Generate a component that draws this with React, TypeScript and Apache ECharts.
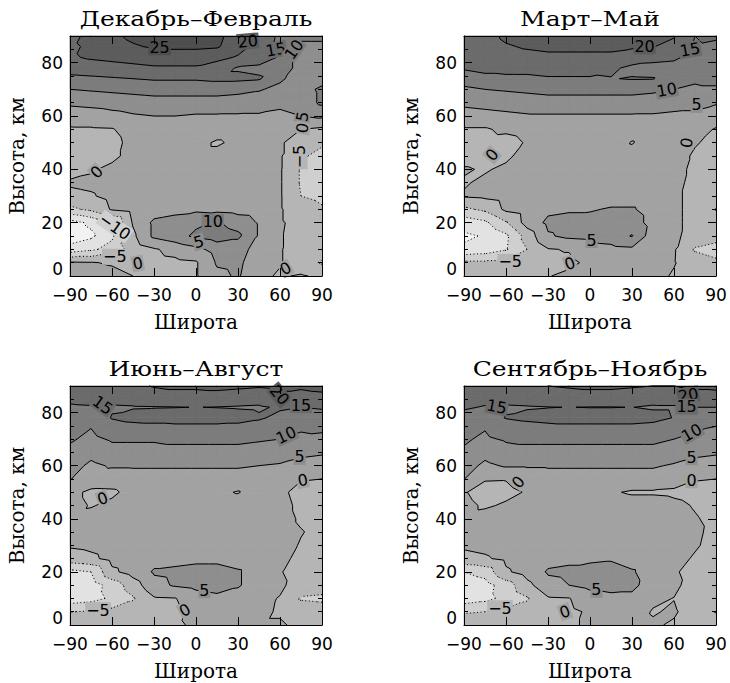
import React, { useEffect, useRef } from 'react';
import * as echarts from 'echarts';

// ---------- axes / levels ----------
const LATS = [-90, -75, -60, -45, -30, -15, 0, 15, 30, 45, 60, 75, 90];
const ALTS = [0, 5, 10, 15, 20, 25, 30, 35, 40, 45, 50, 55, 60, 65, 70, 74, 78, 82, 86, 90];
const LEVELS = [-15, -10, -5, 0, 5, 10, 15, 20, 25];
const BAND_COLORS = ['#f2f2f2', '#e2e2e2', '#cfcfcf', '#b5b5b5', '#a2a2a2', '#8e8e8e', '#7c7c7c', '#6b6b6b', '#5c5c5c', '#4e4e4e'];
const Y_TICKS = [0, 20, 40, 60, 80];
const Y_MINOR_TICKS = [5, 10, 15, 25, 30, 35, 45, 50, 55, 65, 70, 75, 85];
const TITLES = ['Декабрь–Февраль', 'Март–Май', 'Июнь–Август', 'Сентябрь–Ноябрь'];
const X_NAME = 'Широта';
const Y_NAME = 'Высота, км';

// ---------- Dec-Feb: rows by altitude (ALTS), columns by latitude (LATS) ----------
const DJF_ROWS = [
  [3, 2, 1.5, 0, -1, -1, -0.5, 4, 5.5, 1, -0.5, 0.5, -1],
  [0.5, 0.3, -0.5, -2, -1.5, -1, -0.5, 5.5, 6, 2, 0.3, -3, -5.5],
  [-13, -11, -8, -3, -0.5, 1.5, 3.5, 7, 7, 3, 0.3, -2, -3],
  [-18, -16, -11, -1, 6, 8, 11, 12.5, 11, 4.5, 0.3, -1.5, -1.5],
  [-17, -14, -10.5, 0.5, 6, 7, 9, 10.5, 8, 4.5, 0.5, -1.5, -2],
  [-6, -4, 0.5, 2, 2.5, 3.5, 4, 3.5, 3, 2.5, 0.5, -3, -4.5],
  [-1, -0.5, 1.5, 2.5, 2.5, 2.5, 2.5, 2.5, 2.5, 2.5, 0.5, -5, -6],
  [0.5, 1, 2, 2.5, 2.5, 2.5, 2.5, 2.5, 2.5, 2.5, 0.5, -5.5, -6.5],
  [-1.5, -0.5, 1, 2.5, 2.5, 2.5, 2.5, 2.5, 2.5, 2.5, 0.5, -5.5, -7],
  [-2, -2, -1, 1.5, 2.5, 2.5, 2, 2, 2, 2.5, 0.5, -4.5, -6],
  [-2, -2, -1.5, 1.5, 2.5, 2.5, 2, -0.8, 1.5, 2.5, 0.5, -2, -4.5],
  [-0.5, -0.5, -0.3, 2, 3, 3, 3, 3, 3, 3, 1, 0, -1],
  [2, 2.5, 3.5, 4.5, 5, 5, 4.5, 4.5, 4.5, 4.5, 4, 5, 6],
  [6, 6.5, 7, 7.5, 8, 8, 8, 8, 7.5, 7, 6, 7, 11],
  [10, 10.5, 11, 11.5, 12, 12, 12, 12, 11.5, 10.5, 8.5, 8, 11],
  [13.5, 14, 14.5, 15, 15.5, 15.5, 15.5, 16, 16, 15.5, 11, 7, 8],
  [17.5, 18, 18.5, 19, 19.5, 19.5, 19.5, 17.5, 14.5, 14, 13, 8, 8],
  [19.5, 20.5, 21, 21.5, 22, 22, 22, 21.5, 19.5, 17.5, 14.5, 8, 8],
  [19, 21, 23, 24.5, 25.5, 26, 26, 25.5, 22, 18, 13.5, 9, 9],
  [18, 22, 24, 26, 27, 27, 27, 26, 23, 18.5, 14, 11, 11],
];

// ---------- Mar-May: columns by latitude (LATS), values by altitude (ALTS) ----------
const MAM_COLS = [
  [-2, -4, -14, -16, -13, -6, 0.5, -0.5, 0.5, -2, -2, -0.5, 3, 6, 9, 12.5, 15.5, 15.5, 15, 15],
  [-2, -4, -13, -14.5, -11, -4, 1, 1, -0.5, -2, -1.5, -0.5, 3.5, 6.5, 10, 13.5, 16.5, 17, 17.5, 18],
  [-1.5, -4, -10.5, -11, -5.5, 1, 2, 2, 1, -1, -2, 1, 4, 7, 10.5, 14, 16.5, 18, 19.5, 21],
  [-1, -2.5, -5, -3, 2, 2.5, 2.5, 2.5, 2.5, 2, 0.5, 2, 4.5, 7.5, 11, 14, 16.5, 18.5, 20.5, 22],
  [-0.2, -1, -0.3, 4.5, 6, 4, 2.5, 2.5, 2.5, 2.5, 2.5, 2.5, 4.5, 8, 11.5, 14.5, 17, 19, 21, 23],
  [1, -1, 0.3, 6, 6.5, 4.5, 2.5, 2.5, 2.5, 2.5, 2.5, 2.5, 4.5, 8, 11.5, 14.5, 17, 19, 21, 23],
  [1.5, 1, 3, 6.5, 7, 4.5, 2.5, 2.5, 2.5, 2.5, 2.5, 2.5, 4.5, 8, 11.5, 14.5, 17, 19, 21, 23],
  [2, 2.5, 3.5, 7.5, 8, 5.5, 2.5, 2.5, 2.5, 2.5, 2.5, 2.5, 4.5, 8, 11.5, 14.8, 16, 19, 21, 23],
  [2, 2.5, 4, 10.3, 7.5, 5.5, 2.5, 2.5, 2.5, 2, -0.3, 2, 4.5, 8, 11.5, 15.3, 13.8, 18, 20.5, 22],
  [1.5, 2, 2.5, 2, 3, 3, 2.5, 2.5, 2.5, 2.5, 2.5, 2.5, 4.5, 7.5, 11, 15.2, 13.5, 16.5, 20.2, 21.5],
  [-0.5, 0.3, 0.5, 1, 1, 1, 1, 1.5, 1.5, 1.5, 1.5, 2, 4, 7, 10, 12.5, 13, 16, 18, 20.5],
  [-1, -2.5, -5.5, -2, -1.5, -1.5, -1.5, -1.5, -1, -0.5, 0.3, 1.5, 4, 6.5, 9.5, 10.5, 10.2, 13, 14.5, 15],
  [-1.5, -4, -7, -3, -2, -5.2, -2, -1.5, -1.5, -1.5, -1, -0.3, 2, 5.5, 9.5, 11, 11, 12, 13.5, 16],
];

// ---------- Jun-Aug ----------
const JJA_COLS = [
  [-2, -5.2, -13, -13, -11.5, -2, 0.5, 0.5, 1, 1.5, 1.5, 5.2, 7, 9, 10.5, 12, 13, 14.5, 16, 16.5],
  [-2, -4.5, -12, -12.5, -10, -1, 1, 1.5, 1.5, -0.3, -1, 3, 4, 6.5, 9, 10, 11.5, 14.7, 16.5, 17],
  [-1.5, -3.5, -9, -8, -1, 1.5, 2, 2, 2, 1, -0.8, 2.5, 5.5, 8.5, 10.5, 12.5, 15.3, 14.5, 16, 17.5],
  [-1, -2.5, -5.5, -2.5, 2, 2.5, 2.5, 2.5, 2.5, 2, 1.5, 3, 5.5, 8.5, 10.5, 13, 16.5, 14.7, 17, 19],
  [-1, -1.5, -0.5, 3.5, 5.5, 3.5, 2.5, 2.5, 2.5, 2.5, 1, 3, 5.5, 8.5, 10.5, 13, 17, 14.8, 18, 20.3],
  [-0.5, -1, -0.2, 5.5, 6, 3.5, 2.5, 2.5, 2.5, 2.5, 2.5, 3, 5.5, 8.5, 11, 13.5, 17, 14.9, 18, 21],
  [0.5, 1, 2.5, 6.5, 6.5, 4, 2.5, 2.5, 2.5, 2.5, 2.5, 3, 5.5, 8.5, 11, 13.5, 17, 15.05, 18, 21],
  [1.5, 2, 3.5, 7.5, 6.5, 4, 2.5, 2.5, 2.5, 2.5, 1, 3, 5.5, 8.5, 11, 13.5, 17, 14.9, 18, 21.5],
  [1.5, 2, 3, 5.5, 5.5, 3, 2.5, 2.5, 2.5, 2.5, -0.3, 3, 5.5, 8.5, 11, 13.5, 16.5, 14.7, 17.5, 21],
  [0.5, 1, 1.5, 2.5, 2.5, 2.5, 2.5, 2.5, 2.5, 2.5, 2.5, 3, 5, 8, 10.5, 13, 15.5, 14.5, 17, 20.5],
  [0.5, -0.5, -0.3, 1, 0.3, 1, 1.5, 1.5, 1.5, 1.5, 1, 2.5, 4.5, 7.5, 10, 12, 14, 15.5, 19, 21],
  [-1, -2, -5.5, -2.5, -2, -1, -0.3, 0.2, -0.5, -1, -1.5, 0.3, 3.5, 6, 9, 10.5, 12.5, 15, 18, 21],
  [-1.5, -2.5, -6, -2.5, -2, -1.5, -1.5, -1, -1.5, -1.5, -1, 0, 3, 5.5, 8.5, 11, 13, 15.5, 18.5, 22],
];

// ---------- Sep-Nov ----------
const SON_COLS = [
  [-2, -5.5, -13, -13.5, -10, -1, 0.5, 1, 1, 1, 0.3, 5.1, 7, 9.5, 10.5, 12, 13.5, 15.5, 17, 18],
  [-2, -5, -11.5, -12, -8, -0.5, 1, 1.5, 1.5, -0.5, -1.5, 0.3, 4, 6.5, 9.3, 10.2, 13, 14.7, 16.5, 18.5],
  [-1.5, -4, -8.5, -7.5, -0.7, 1, 2, 2, 2, 0.5, -1, 0.2, 5.5, 8.5, 10.5, 12.5, 15.2, 14.5, 16.5, 19],
  [-1, -3, -5.5, -1.5, 2, 2.5, 2.5, 2.5, 2.5, 2, 0.3, 2, 5.5, 8.5, 11, 13, 16, 14.7, 17, 19.5],
  [-1, -1.5, -0.5, 3.5, 5.5, 3.5, 2.5, 2.5, 2.5, 2.5, 2.5, 3, 5.5, 8.5, 11, 13.5, 16.5, 14.9, 17.5, 20],
  [-0.5, -0.8, -0.2, 5, 6, 4, 2.5, 2.5, 2.5, 2.5, 2.5, 3, 5.5, 8.5, 11, 13.5, 17, 15.05, 18, 20.5],
  [0.5, 0.5, 2.5, 6.5, 7, 4, 2.5, 2.5, 2.5, 2.5, 2.5, 3, 5.5, 8.5, 11, 13.5, 17, 14.9, 18, 21],
  [1.5, 2, 3.5, 7, 7, 4.5, 2.5, 2.5, 2.5, 2.5, 0.5, 3, 5.5, 8.5, 11, 13.5, 17, 14.9, 18, 21],
  [1.5, 2, 3.5, 6.5, 5.5, 3, 2.5, 2.5, 2.5, 2, -0.5, 3, 5.5, 8.5, 11, 13.5, 17, 15.05, 17.5, 20.5],
  [0.5, -0.3, 0.8, 2, 2.5, 2.5, 2.5, 2.5, 2.5, 2, -0.5, 3, 5.5, 8.5, 11, 13, 16.5, 14.5, 17, 20],
  [-0.5, 0.5, -0.1, 1, 0.5, 1.5, 2, 2, 1.5, 1, -0.8, 2, 4.5, 7.5, 10, 12.5, 14.8, 14.5, 17.5, 20],
  [-1, -2, -3, -2, -1.5, -0.5, 0.5, 0.8, 0.3, -0.3, -1.5, 0.3, 3.5, 6, 9, 10.5, 12.5, 15, 18, 21],
  [-1.5, -5.3, -3.5, -2.5, -2, -2, -1.5, -1.2, -1, -1.5, -1.5, 0, 3, 5.5, 8, 9.5, 12, 15, 18.5, 21],
];

// ---------- contour labels: [lat, alt, level, rotation deg] ----------
const DJF_LABELS = [
  [-26, 85.8, 25, 0], [37, 88, 20, 5], [57, 84.9, 15, 10], [70, 84.9, 10, 55],
  [76, 59.8, 5, 80], [76, 55.5, 0, 80], [74, 44.8, -5, 90], [-71, 39, 0, 45],
  [-58, 18.5, -10, -35], [12, 20.3, 10, 0], [2, 12.8, 5, 15], [-58, 7.2, -5, 0],
  [-41.6, 4.7, 0, 10], [64, 2.8, 0, 30],
];
const MAM_LABELS = [
  [39, 86.1, 20, 0], [71.4, 84.9, 15, 10], [54.8, 69.8, 10, 10], [76.2, 64.2, 5, 0],
  [69, 50, 0, 80], [-70, 45.4, 0, 50], [1.2, 13.5, 5, 0], [-57, 5.3, -5, 0], [-14.3, 4.7, 0, 20],
];
const JJA_LABELS = [
  [-66.6, 82.8, 15, -35], [59.6, 86.6, 20, -50], [75, 82.8, 15, 0], [64.4, 71.5, 10, 25],
  [74, 63.3, 5, 0], [76.3, 54.5, 0, 10], [-66.6, 47.6, 0, 20], [6, 13.1, 5, 0],
  [-70, 5.6, -5, 0], [-8, 5.6, 0, 30],
];
const SON_LABELS = [
  [70.2, 86.6, 20, 10], [69, 82.2, 15, 0], [-66.6, 82.2, 15, -10], [72.6, 72.4, 10, 30],
  [72.6, 63.2, 5, 0], [72.6, 54.5, 0, 0], [-51.2, 53.8, 0, 50], [4.6, 13.2, 5, 0],
  [-64.3, 6.3, -5, 0], [-17.9, 5, 0, 20],
];

// ---------- helpers ----------
const fromCols = (cols: number[][]) => ALTS.map((_, j) => cols.map((c) => c[j]));
const GRIDS = [DJF_ROWS, fromCols(MAM_COLS), fromCols(JJA_COLS), fromCols(SON_COLS)];
const LABELS = [DJF_LABELS, MAM_LABELS, JJA_LABELS, SON_LABELS];

const LAYOUT = [
  { left: 70, top: 36, height: 240 },
  { left: 464, top: 36, height: 240 },
  { left: 70, top: 386, height: 239 },
  { left: 464, top: 386, height: 239 },
];
const PANEL_W = 252;

type Pt = { x: number; y: number; v: number };

const bandIndex = (v: number) => {
  let k = 0;
  while (k < LEVELS.length && v >= LEVELS[k]) k++;
  return k;
};

function clip(poly: Pt[], L: number, keepAbove: boolean): Pt[] {
  const out: Pt[] = [];
  for (let a = 0; a < poly.length; a++) {
    const P = poly[a];
    const Q = poly[(a + 1) % poly.length];
    const pin = keepAbove ? P.v >= L : P.v <= L;
    const qin = keepAbove ? Q.v >= L : Q.v <= L;
    if (pin) out.push(P);
    if (pin !== qin) {
      const t = (L - P.v) / (Q.v - P.v);
      out.push({ x: P.x + t * (Q.x - P.x), y: P.y + t * (Q.y - P.y), v: L });
    }
  }
  return out;
}

function corners(grid: number[][], i: number, j: number, api: any): Pt[] {
  const c = (ii: number, jj: number): Pt => {
    const p = api.coord([LATS[ii], ALTS[jj]]);
    return { x: p[0], y: p[1], v: grid[jj][ii] };
  };
  return [c(i, j), c(i + 1, j), c(i + 1, j + 1), c(i, j + 1)];
}

const makeFill = (grid: number[][]) => (_params: any, api: any) => {
  const i = api.value(2);
  const j = api.value(3);
  const q = corners(grid, i, j, api);
  const children: any[] = [];
  const add = (pts: Pt[], k: number) =>
    children.push({
      type: 'polygon',
      shape: { points: pts.map((p) => [p.x, p.y]) },
      style: { fill: BAND_COLORS[k], stroke: BAND_COLORS[k], lineWidth: 0.8 },
      silent: true,
    });
  const bands = q.map((p) => bandIndex(p.v));
  if (bands.every((b) => b === bands[0])) {
    add(q, bands[0]);
  } else {
    for (const tri of [[q[0], q[1], q[2]], [q[0], q[2], q[3]]]) {
      const bs = tri.map((p) => bandIndex(p.v));
      const kmin = Math.min(...bs);
      const kmax = Math.max(...bs);
      for (let k = kmin; k <= kmax; k++) {
        let poly: Pt[] = tri;
        if (k > 0) poly = clip(poly, LEVELS[k - 1], true);
        if (k < LEVELS.length && poly.length) poly = clip(poly, LEVELS[k], false);
        if (poly.length >= 3) add(poly, k);
      }
    }
  }
  return { type: 'group', children };
};

const makeLines = (grid: number[][]) => (_params: any, api: any) => {
  const i = api.value(2);
  const j = api.value(3);
  const q = corners(grid, i, j, api);
  const children: any[] = [];
  const adj = (d: number) => (d === 0 ? 1e-6 : d);
  for (const tri of [[q[0], q[1], q[2]], [q[0], q[2], q[3]]]) {
    for (const L of LEVELS) {
      const pts: number[][] = [];
      for (let e = 0; e < 3; e++) {
        const P = tri[e];
        const Q = tri[(e + 1) % 3];
        const a = adj(P.v - L);
        const b = adj(Q.v - L);
        if (a < 0 !== b < 0) {
          const t = a / (a - b);
          pts.push([P.x + t * (Q.x - P.x), P.y + t * (Q.y - P.y)]);
        }
      }
      if (pts.length === 2) {
        children.push({
          type: 'line',
          shape: { x1: pts[0][0], y1: pts[0][1], x2: pts[1][0], y2: pts[1][1] },
          style: { stroke: '#000', lineWidth: 1, lineDash: L < 0 ? [1, 2.5] : null },
          silent: true,
        });
      }
    }
  }
  return { type: 'group', children };
};

const fmtNum = (v: number) => (v < 0 ? '\u2212' + String(-v) : String(v));

const makeLabels = (labels: number[][]) => (params: any, api: any) => {
  const L = labels[params.dataIndex];
  const p = api.coord([L[0], L[1]]);
  return {
    type: 'text',
    x: p[0],
    y: p[1],
    rotation: (L[3] * Math.PI) / 180,
    silent: true,
    style: {
      text: fmtNum(L[2]),
      fontSize: 16,
      fontFamily: 'DejaVu Sans',
      fill: '#000',
      align: 'center',
      verticalAlign: 'middle',
      backgroundColor: BAND_COLORS[bandIndex(L[2])],
      padding: [0, 1],
    },
  };
};

function buildOption() {
  const cells: number[][] = [];
  for (let i = 0; i < LATS.length - 1; i++)
    for (let j = 0; j < ALTS.length - 1; j++) cells.push([LATS[i], ALTS[j], i, j]);

  const axisLine = { show: true, onZero: false, lineStyle: { color: '#000', width: 1 } };
  const grid: any[] = [];
  const xAxis: any[] = [];
  const yAxis: any[] = [];
  const series: any[] = [];

  LAYOUT.forEach((l, p) => {
    grid.push({ left: l.left, top: l.top, width: PANEL_W, height: l.height, containLabel: false });
    const xBase = {
      type: 'value', gridIndex: p, min: -90, max: 90, interval: 30, z: 5,
      axisLine, splitLine: { show: false },
      axisTick: { show: true, inside: true, length: 8, lineStyle: { color: '#000' } },
    };
    xAxis.push({
      ...xBase, position: 'bottom',
      axisLabel: { show: true, margin: 10, color: '#000', fontSize: 17, fontFamily: 'DejaVu Sans', formatter: (v: number) => fmtNum(v) },
      name: X_NAME, nameLocation: 'middle', nameGap: 36,
      nameTextStyle: { color: '#000', fontSize: 20, fontFamily: 'DejaVu Serif' },
    });
    xAxis.push({ ...xBase, position: 'top', axisLabel: { show: false } });

    const yBase = { type: 'value', gridIndex: p, min: 0, max: 90, interval: 20, z: 5, splitLine: { show: false } };
    yAxis.push({
      ...yBase, position: 'left', axisLine,
      axisTick: { show: true, inside: true, length: 8, customValues: Y_TICKS, lineStyle: { color: '#000' } },
      axisLabel: {
        show: true, margin: 7, color: '#000', fontSize: 17, fontFamily: 'DejaVu Sans',
        customValues: Y_TICKS,
        formatter: (v: number) => (v === 0 ? '{z|0}' : v > 80 ? '' : String(v)),
        rich: { z: { padding: [0, 0, 14, 0], fontSize: 17, fontFamily: 'DejaVu Sans', color: '#000' } },
      },
      name: Y_NAME, nameLocation: 'middle', nameGap: 43,
      nameTextStyle: { color: '#000', fontSize: 20, fontFamily: 'DejaVu Serif' },
    });
    yAxis.push({
      ...yBase, position: 'left', axisLine: { show: false, onZero: false },
      axisTick: { show: true, inside: true, length: 4, customValues: Y_MINOR_TICKS, lineStyle: { color: '#000' } },
      axisLabel: { show: false },
    });
    yAxis.push({
      ...yBase, position: 'right', axisLine,
      axisTick: { show: true, inside: true, length: 8, customValues: Y_TICKS, lineStyle: { color: '#000' } },
      axisLabel: { show: false },
    });
    yAxis.push({
      ...yBase, position: 'right', axisLine: { show: false, onZero: false },
      axisTick: { show: true, inside: true, length: 4, customValues: Y_MINOR_TICKS, lineStyle: { color: '#000' } },
      axisLabel: { show: false },
    });

    const g = GRIDS[p];
    const common = { type: 'custom', coordinateSystem: 'cartesian2d', xAxisIndex: 2 * p, yAxisIndex: 4 * p, silent: true, animation: false };
    series.push({ ...common, z: 1, renderItem: makeFill(g), data: cells });
    series.push({ ...common, z: 2, renderItem: makeLines(g), data: cells });
    series.push({ ...common, z: 3, renderItem: makeLabels(LABELS[p]), data: LABELS[p].map((L) => [L[0], L[1]]) });
  });

  const graphic = TITLES.map((t, p) => ({
    type: 'text',
    x: LAYOUT[p].left + PANEL_W / 2,
    y: p < 2 ? 18.5 : 368.5,
    scaleX: 1.25,
    silent: true,
    style: { text: t, fontSize: 20, fontFamily: 'DejaVu Serif', fill: '#000', align: 'center', verticalAlign: 'middle' },
  }));

  return { animation: false, backgroundColor: '#fff', grid, xAxis, yAxis, series, graphic };
}

export default function App() {
  const ref = useRef<HTMLDivElement>(null);
  useEffect(() => {
    if (!ref.current) return;
    const chart = echarts.init(ref.current, null, { renderer: 'svg' });
    chart.setOption(buildOption() as any);
    return () => chart.dispose();
  }, []);
  return (
    <div
      ref={ref}
      style={{ position: 'fixed', left: 0, top: 0, width: 730, height: 683, background: '#fff' }}
    />
  );
}
